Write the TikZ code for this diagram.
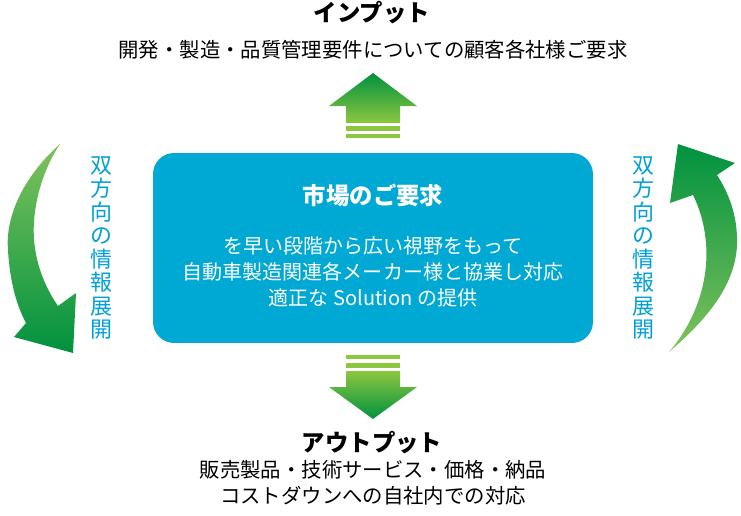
\documentclass[tikz,border=0pt]{standalone}
\usepackage{fontspec}
\setmainfont{Noto Sans CJK JP}
\definecolor{darkgreen}{RGB}{0,146,63}
\definecolor{leafgreen}{RGB}{141,198,63}
\definecolor{softgreen}{RGB}{128,194,92}
\definecolor{boxblue}{RGB}{0,168,212}
\definecolor{infoblue}{RGB}{0,160,215}
\begin{document}
\begin{tikzpicture}[x=0.02cm,y=-0.02cm,
                    title node/.style={font=\fontsize{13.3}{16}\selectfont\bfseries},
                    text node/.style={font=\fontsize{11.6}{14.7}\selectfont,align=center},
                    info node/.style={font=\fontsize{12.5}{13.4}\selectfont,text=infoblue,align=center},
                    market box/.style={rectangle,rounded corners=0.42cm,fill=boxblue,minimum width=8.8cm,minimum height=3.8cm},
                    box text/.style={text=white,align=center,font=\fontsize{11.4}{14.7}\selectfont}
                   ]
  \useasboundingbox (0,0) rectangle (741,515);

  \node[title node] (input) at (372,13) {インプット};
  \node[text node] (inputtext) at (373,50) {開発・製造・品質管理要件についての顧客各社様ご要求};

  \node[market box] (market) at (373,248) {};
  \node[box text,font=\fontsize{13.3}{16}\selectfont\bfseries] (markettitle) at (373,195) {市場のご要求};
  \node[box text] (markettext) at (373,272) {を早い段階から広い視野をもって\\自動車製造関連各メーカー様と協業し対応\\適正な Solution の提供};

  \node[title node] (output) at (372,443) {アウトプット};
  \node[text node] (outputtext) at (373,483) {販売製品・技術サービス・価格・納品\\コストダウンへの自社内での対応};

  \node[info node] (leftinfo) at (101,248) {双\\方\\向\\の\\情\\報\\展\\開};
  \node[info node] (rightinfo) at (643,248) {双\\方\\向\\の\\情\\報\\展\\開};

  \shade[top color=darkgreen,bottom color=leafgreen]
    (373,73) -- (417,106) -- (400,106) -- (400,123) -- (346,123) -- (346,106) -- (329,106) -- cycle;
  \fill[leafgreen] (346,126) rectangle (400,131);
  \fill[leafgreen] (346,134) rectangle (400,138);

  \fill[leafgreen] (346,355) rectangle (400,359);
  \fill[leafgreen] (346,363) rectangle (400,368);
  \shade[top color=leafgreen,bottom color=darkgreen]
    (346,371) -- (400,371) -- (400,387) -- (417,387) -- (373,419) -- (329,387) -- (346,387) -- cycle;

  \shade[top color=softgreen,middle color=darkgreen,bottom color=darkgreen]
    (60,144) .. controls (25,175) and (5,215) .. (8,250)
    .. controls (10,285) and (18,308) .. (26,323) -- (14,337) -- (73,353) -- (76,293) -- (58,306)
    .. controls (40,280) and (32,250) .. (34,222)
    .. controls (36,190) and (48,162) .. (60,144) -- cycle;

  \shade[top color=darkgreen,middle color=darkgreen,bottom color=softgreen]
    (669,352) .. controls (700,325) and (735,290) .. (737,245)
    .. controls (738,215) and (728,192) .. (717,175) -- (735,163) -- (678,144) -- (670,203) -- (693,195)
    .. controls (703,215) and (708,240) .. (706,265)
    .. controls (703,300) and (688,330) .. (669,352) -- cycle;
\end{tikzpicture}
\end{document}
